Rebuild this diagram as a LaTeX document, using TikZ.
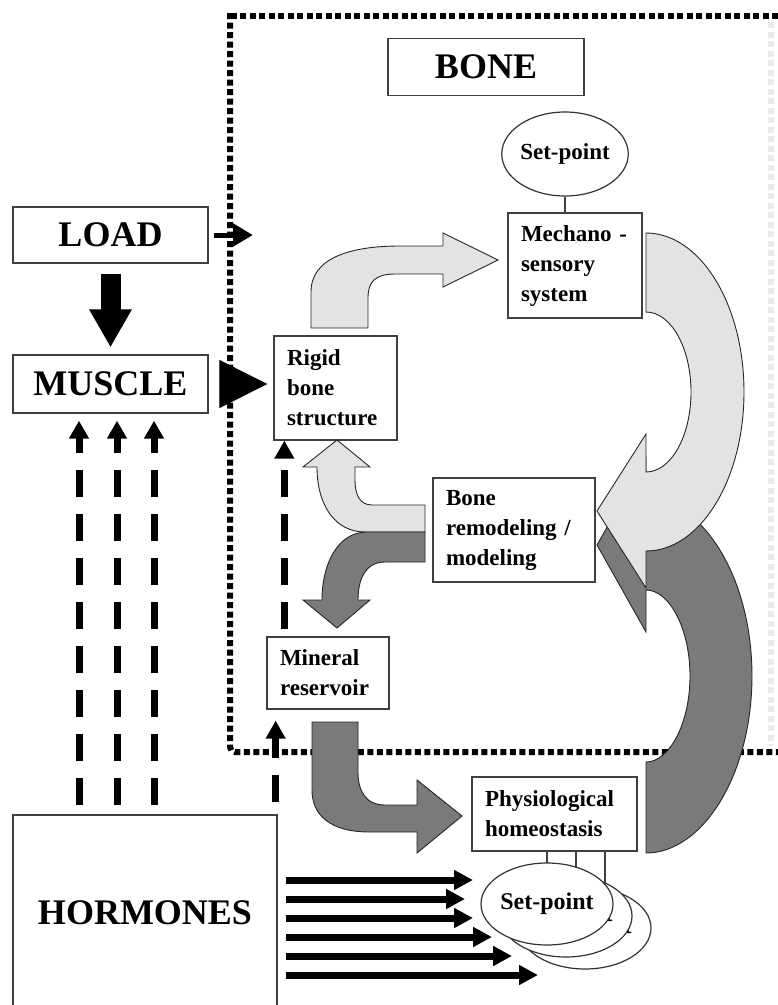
\documentclass[tikz,border=0pt]{standalone}
\usepackage{fontspec}
\setmainfont{Liberation Serif}
\usetikzlibrary{arrows.meta,shapes.geometric}

\newcommand{\biglabel}{\fontsize{36}{40}\selectfont\bfseries}
\newcommand{\smalllabel}{\fontsize{23}{30}\selectfont\bfseries}
\newcommand{\setlabel}{\fontsize{24}{28}\selectfont\bfseries}

\tikzset{
	bigbox/.style={draw=black!75, line width=1.3pt, fill=white, inner sep=0pt, font=\biglabel},
	smallbox/.style={draw=black!75, line width=1.3pt, fill=white, inner xsep=13pt, inner ysep=0pt, align=left, font=\smalllabel},
	setpoint/.style={ellipse, draw=black!80, line width=1.2pt, fill=white, inner sep=0pt, font=\setlabel},
	lightflow/.style={fill=black!11, draw=black!85, line width=0.9pt},
	darkflow/.style={fill=black!52, draw=black!85, line width=0.9pt},
	boundary/.style={line width=6pt, dash pattern=on 6pt off 3.5pt},
	hormflow/.style={line width=7pt, dash pattern=on 27pt off 17pt, -{Triangle[length=18pt,width=19pt]}},
	signal/.style={line width=7pt, -{Triangle[length=19pt,width=19pt]}},
	link/.style={draw=black!75, line width=1.2pt}
}

\begin{document}
\begin{tikzpicture}[x=1pt,y=-1pt]
	\useasboundingbox (0,0) rectangle (778,1005);
	\draw[boundary] (778,16) -- (227,16);
	\draw[boundary, rounded corners=5pt] (230,13) -- (230,752) -- (778,752);
	\draw[boundary, draw=black!8] (771,22) -- (771,746);

	\node (bone) [bigbox, minimum width=196pt, minimum height=57pt] at (486,67) {BONE};
	\node (load) [bigbox, minimum width=195pt, minimum height=56pt] at (110.5,235) {LOAD};
	\node (muscle) [bigbox, minimum width=195pt, minimum height=58pt] at (110.5,384) {MUSCLE};
	\node (hormones) [bigbox, minimum width=264pt, minimum height=196pt] at (145,913) {HORMONES};

	\node (setmech) [setpoint, minimum width=112pt, minimum height=84pt, font=\smalllabel] at (565,154) {Set-point};
	\node (mechano) [smallbox, text width=108pt, minimum height=105pt] at (575,265.5) {Mechano -\\sensory\\system};
	\node (rigid) [smallbox, text width=97pt, minimum height=104pt] at (335.5,388) {Rigid\\bone\\structure};
	\node (remod) [smallbox, text width=136pt, minimum height=104pt] at (514,530) {Bone\\remodeling /\\modeling};
	\node (mineral) [smallbox, text width=96pt, minimum height=72pt] at (328,673) {Mineral\\reservoir};
	\node (physio) [smallbox, text width=139pt, minimum height=74pt] at (554.5,814) {Physiological\\homeostasis};

	\draw[darkflow] (646,853) .. controls (703,853) and (752,774) .. (752,676) .. controls (752,578) and (703,499) .. (646,499) -- (646,458) -- (597,545) -- (646,632) -- (646,590) .. controls (669,590) and (690,628) .. (690,676) .. controls (690,724) and (669,762) .. (646,762) -- cycle;
	\draw[lightflow] (646,233) .. controls (700,233) and (744,304) .. (744,392) .. controls (744,480) and (700,551) .. (646,551) -- (646,588) -- (597,511) -- (646,434) -- (646,472) .. controls (671,472) and (691,436) .. (691,392) .. controls (691,348) and (671,312) .. (646,312) -- cycle;
	\draw[lightflow] (311,328) -- (311,292) .. controls (311,258) and (350,246) .. (400,246) -- (443,246) -- (443,233) -- (498,260) -- (443,287) -- (443,274) -- (395,274) .. controls (375,274) and (368,282) .. (368,298) -- (368,328) -- cycle;
	\draw[lightflow] (425,505) -- (372,505) .. controls (360,505) and (355,495) .. (355,480) -- (355,467) -- (370,467) -- (337,440) -- (303,467) -- (317,467) .. controls (317,505) and (335,532) .. (365,532) -- (425,532) -- cycle;
	\draw[darkflow] (425,532) -- (367,532) .. controls (337,532) and (322,565) .. (322,600) -- (303,600) -- (337,628) -- (370,600) -- (358,600) .. controls (358,580) and (365,562) .. (385,562) -- (425,562) -- cycle;
	\draw[darkflow] (312,722) -- (312,790) .. controls (312,815) and (330,832) .. (370,832) -- (417,832) -- (417,853) -- (462,816) -- (417,780) -- (417,805) -- (385,805) .. controls (365,805) and (358,790) .. (358,772) -- (358,722) -- cycle;

	\coordinate (loadin) at (253,235);
	\path (load.east) edge [line width=5pt, -{Triangle[length=20pt,width=22pt]}, shorten <=5pt] (loadin);
	\path (load.south) edge [line width=20pt, -{Triangle[length=38pt,width=40pt]}, shorten <=10pt, shorten >=7pt] (muscle.north);
	\path (muscle.east) edge [line width=1pt, -{Triangle[length=48pt,width=48pt]}, shorten <=12pt, shorten >=6pt] (muscle.east -| rigid.west);
	\path (setmech.south) edge [link] (setmech.south |- mechano.north);

	\foreach \x in {79,117,154}
		\path (hormones.north -| \x,0) edge [hormflow, shorten <=9pt, shorten >=7pt] (muscle.south -| \x,0);
	\path ([xshift=18pt]mineral.north west) edge [hormflow, shorten <=7pt] ([xshift=18pt]mineral.north west |- rigid.south);
	\path ([xshift=-2pt]hormones.north east) edge [hormflow, shorten <=12pt, shorten >=11pt] ([xshift=-2pt]hormones.north east |- mineral.south);

	\foreach \y/\x [count=\i] in {880/473, 899/465, 918/473, 937/492, 956/512, 975/538} {
		\coordinate (sig\i) at (\x,\y);
		\path (hormones.east |- sig\i) edge [signal, shorten <=8pt] (sig\i);
	}

	\coordinate (c1) at (547,904);
	\coordinate (c2) at (566,916);
	\coordinate (c3) at (585,928);
	\path (physio.south -| c1) edge [link] (c1);
	\path ([xshift=10pt]c2 |- physio.south) edge [link] ([xshift=10pt]c2);
	\path ([xshift=20pt]c3 |- physio.south) edge [link] ([xshift=20pt]c3);
	\node (sp3) [setpoint, minimum width=114pt, minimum height=82pt] at (c3) {Set-point};
	\node (sp2) [setpoint, minimum width=114pt, minimum height=82pt] at (c2) {Set-point};
	\node (sp1) [setpoint, minimum width=114pt, minimum height=82pt] at (c1) {Set-point};
\end{tikzpicture}
\end{document}
